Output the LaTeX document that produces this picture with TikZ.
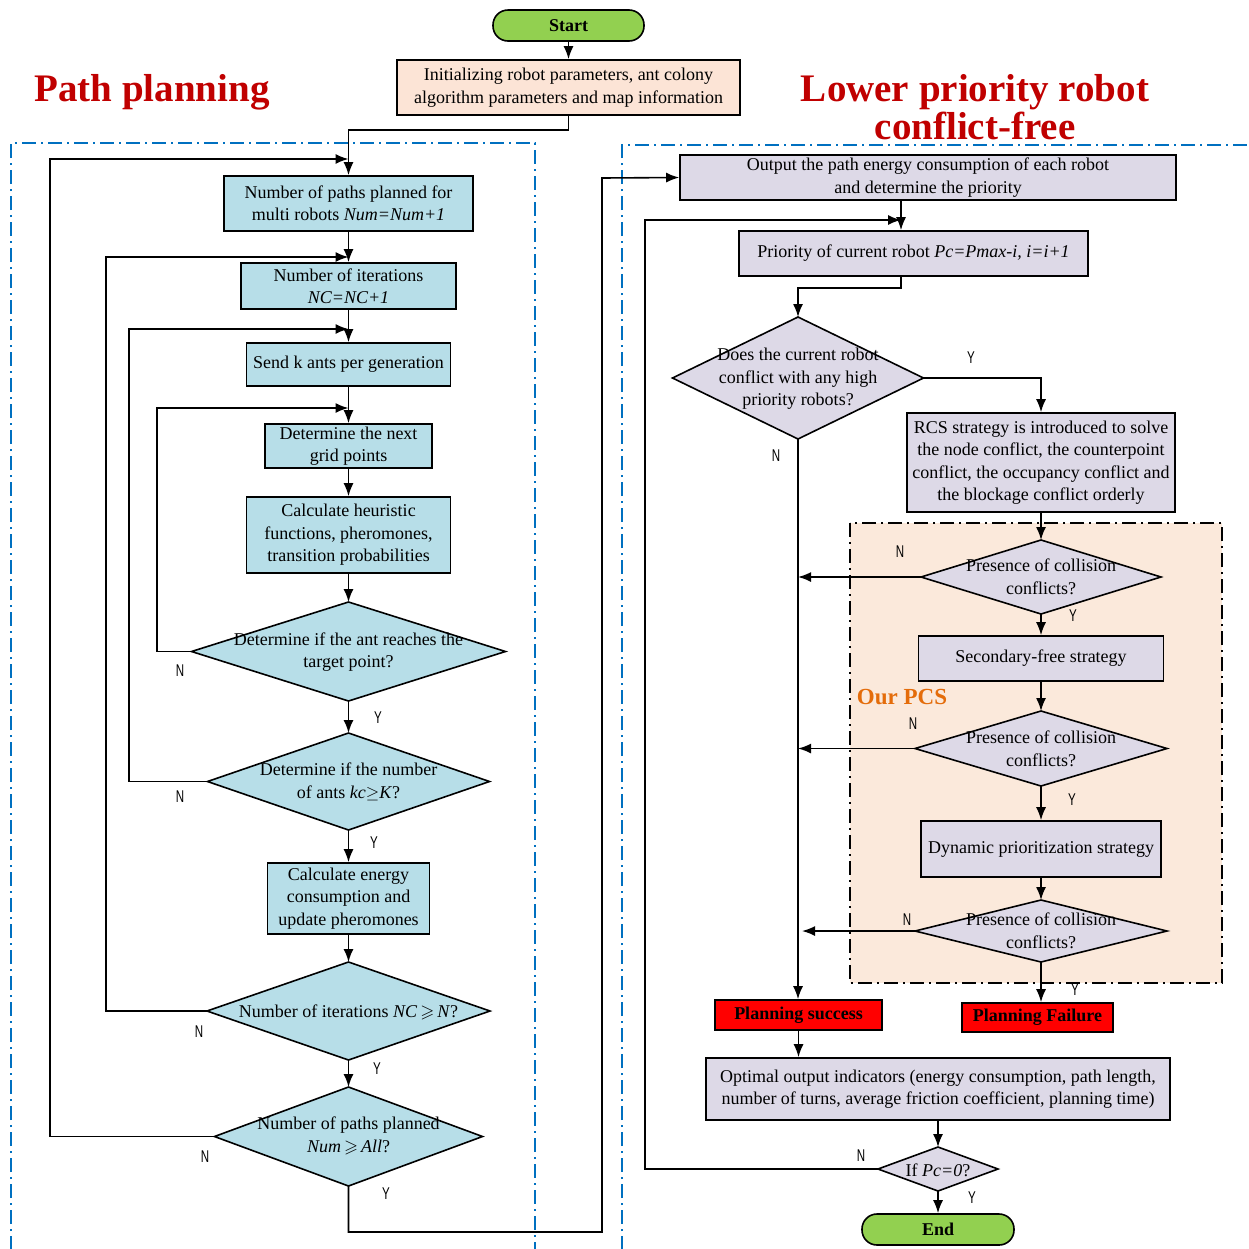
\documentclass[tikz,border=0pt]{standalone}
\usepackage{amssymb}
\usepackage{fontspec}
\setmainfont{Liberation Serif}
\newfontfamily\ynfont{Liberation Sans}
\usetikzlibrary{shapes.geometric,arrows.meta}
\definecolor{boxblue}{HTML}{B7DEE8}
\definecolor{lav}{HTML}{DDD9E7}
\definecolor{peach}{HTML}{FCE4D6}
\definecolor{pcsbg}{HTML}{FBE9DB}
\definecolor{pillgreen}{HTML}{92D050}
\definecolor{titlered}{HTML}{C00000}
\definecolor{pcsorange}{HTML}{E46C0A}
\definecolor{frameblue}{HTML}{0070C0}
\tikzset{
  base/.style={draw=black, line width=1.6pt, inner sep=2pt, align=center, font=\fontsize{18}{22.5}\selectfont},
  bbox/.style={base, rectangle, fill=boxblue},
  pbox/.style={base, rectangle, fill=lav},
  rbox/.style={base, rectangle, fill=red, font=\fontsize{18}{22.5}\selectfont\bfseries},
  pill/.style={base, rectangle, rounded corners=15pt, fill=pillgreen, font=\fontsize{18}{22.5}\selectfont\bfseries},
  dia/.style={draw=black, line width=1.6pt, diamond, inner sep=0pt, outer sep=0pt},
  wh/.style 2 args={minimum width=#1pt, minimum height=#2pt},
  txt/.style={align=center, inner sep=0pt, font=\fontsize{18}{22.5}\selectfont},
  yn/.style={inner sep=0pt, font=\ynfont\fontsize{17}{17}\selectfont, xscale=0.68},
  arr/.style={line width=1.6pt, -{Latex[length=13pt,width=10pt]}},
  frame/.style={draw=frameblue, line width=1.8pt, dash pattern=on 14pt off 5pt on 2pt off 5pt},
  title/.style={text=titlered, align=center, font=\fontsize{39}{38}\selectfont\bfseries},
}
\begin{document}
\begin{tikzpicture}[x=1pt,y=-1pt]
\useasboundingbox (0,0) rectangle (1249,1248);
% frames
\draw[frame] (11,1250) -- (11,143) -- (535,143) -- (535,1250);
\draw[frame] (622,1250) -- (622,145) -- (1252,145);
\draw[fill=pcsbg, draw=black, line width=1.6pt, dash pattern=on 14pt off 5pt on 2pt off 5pt] (850,523) rectangle (1222,983);
% titles
\node[title] (t1) at (152,92) {Path planning};
\node[title] (t2) at (975,107) {Lower priority robot\\conflict-free};
\node[text=pcsorange, inner sep=0pt, font=\fontsize{23}{23}\selectfont\bfseries] (pcs) at (902,697) {Our PCS};
% top
\node[pill, wh={151}{31}] (start) at (568.5,25.5) {Start};
\node[base, rectangle, fill=peach, wh={343}{55}] (init) at (568.5,87.5) {Initializing robot parameters, ant colony\\algorithm parameters and map information};
% left column
\node[bbox, wh={249}{55}] (num) at (348.5,203.5) {Number of paths planned for\\multi robots \textit{Num=Num+1}};
\node[bbox, wh={215}{46}] (iter) at (348.5,286) {Number of iterations\\\textit{NC=NC+1}};
\node[bbox, wh={204}{43}] (send) at (348.5,364.5) {Send k ants per generation};
\node[bbox, wh={167}{44}] (next) at (348.5,446) {Determine the next\\grid points};
\node[bbox, wh={204}{76}] (calc) at (348.5,535) {Calculate heuristic\\functions, pheromones,\\transition probabilities};
\node[dia, fill=boxblue, wh={314}{99}] (d1) at (348.5,651.5) {};
\node[txt] (d1t) at (348.5,652) {Determine if the ant reaches the\\target point?};
\node[dia, fill=boxblue, wh={282}{97}] (d2) at (348.5,781.5) {};
\node[txt] (d2t) at (348.5,782) {Determine if the number\\of ants \textit{kc}$\geq$\textit{K}?};
\node[bbox, wh={162}{71}] (energy) at (348.5,898.5) {Calculate energy\\consumption and\\update pheromones};
\node[dia, fill=boxblue, wh={283}{98}] (d3) at (348.5,1011) {};
\node[txt] (d3t) at (348.5,1012) {Number of iterations \textit{NC}\,$\geqslant$\,\textit{N}?};
\node[dia, fill=boxblue, wh={268}{99}] (d4) at (348.5,1136.5) {};
\node[txt] (d4t) at (348.5,1136) {Number of paths planned\\\textit{Num}\,$\geqslant$\,\textit{All}?};
% right column
\node[pbox, wh={496}{45}] (out) at (928,177.5) {Output the path energy consumption of each robot\\and determine the priority};
\node[pbox, wh={349}{45}] (prio) at (913.5,253.5) {Priority of current robot \textit{Pc=Pmax-i, i=i+1}};
\node[dia, fill=lav, wh={251}{122}] (r1) at (798,378) {};
\node[txt] (r1t) at (798,379) {Does the current robot\\conflict with any high\\priority robots?};
\node[pbox, wh={268}{99}] (rcs) at (1041,462.5) {RCS strategy is introduced to solve\\the node conflict, the counterpoint\\conflict, the occupancy conflict and\\the blockage conflict orderly};
\node[dia, fill=lav, wh={240}{74}] (r2) at (1041,577) {};
\node[txt] (r2t) at (1041,577) {Presence of collision\\conflicts?};
\node[pbox, wh={245}{45}] (sec) at (1041,658.5) {Secondary-free strategy};
\node[dia, fill=lav, wh={252}{75}] (r3) at (1041,748.5) {};
\node[txt] (r3t) at (1041,749) {Presence of collision\\conflicts?};
\node[pbox, wh={240}{56}] (dyn) at (1041,849) {Dynamic prioritization strategy};
\node[dia, fill=lav, wh={252}{62}] (r4) at (1041,931) {};
\node[txt] (r4t) at (1041,931) {Presence of collision\\conflicts?};
\node[rbox, wh={167}{30}] (succ) at (798.5,1015) {Planning success};
\node[rbox, wh={151}{29}] (fail) at (1037.5,1017.5) {Planning Failure};
\node[pbox, wh={464}{62}] (opt) at (938,1089) {Optimal output indicators (energy consumption, path length,\\number of turns, average friction coefficient, planning time)};
\node[dia, fill=lav, wh={120}{44}] (ifd) at (938,1169) {};
\node[txt] (ifdt) at (938,1170) {If \textit{Pc=0}?};
\node[pill, wh={152}{31}] (end) at (938,1229.5) {End};
% junction coordinates
\coordinate (j0) at (348.5,159);
\coordinate (j1) at (348.5,257);
\coordinate (j2) at (348.5,329);
\coordinate (j3) at (348.5,408);
\coordinate (l0) at (50,159);
\coordinate (l1) at (106,257);
\coordinate (l2) at (129,329);
\coordinate (l3) at (157,408);
\coordinate (b0) at (348.5,1232);
\coordinate (b1) at (602,1232);
\coordinate (b2) at (602,178);
\coordinate (k0) at (901,220);
\coordinate (k1) at (645,220);
\coordinate (m0) at (901,288);
\coordinate (n2) at (798,577);
\coordinate (n3) at (798,748.5);
\coordinate (n4) at (802,931);
% left connectors
\draw[arr] (start) -- (init);
\draw[arr] (init.south) -- ++(0,14) -| (num.north);
\draw[arr] (num) -- (iter);
\draw[arr] (iter) -- (send);
\draw[arr] (send) -- (next);
\draw[arr] (next) -- (calc);
\draw[arr] (calc) -- (d1);
\draw[arr] (d1) -- (d2);
\draw[arr] (d2) -- (energy);
\draw[arr] (energy) -- (d3);
\draw[arr] (d3) -- (d4);
\draw[arr] (d1.west) -| (l3) -- (j3);
\draw[arr] (d2.west) -| (l2) -- (j2);
\draw[arr] (d3.west) -| (l1) -- (j1);
\draw[arr] (d4.west) -| (l0) -- (j0);
\draw[arr] (d4.south) -- (b0) -- (b1) -- (b2) -- (out.west);
% right connectors
\draw[arr] (out.south -| k0) -- (prio.north -| k0);
\draw[arr] (ifd.west) -| (k1) -- (k0);
\draw[arr] (prio.south -| m0) -- (m0) -| (r1.north);
\draw[arr] (r1.east) -| (rcs.north);
\draw[arr] (r1.south) -- (r1.south |- succ.north);
\draw[arr] (rcs) -- (r2);
\draw[arr] (r2) -- (sec);
\draw[arr] (sec) -- (r3);
\draw[arr] (r3) -- (dyn);
\draw[arr] (dyn) -- (r4);
\draw[arr] (r4.south) -- (r4.south |- fail.north);
\draw[arr] (r2.west) -- (n2);
\draw[arr] (r3.west) -- (n3);
\draw[arr] (r4.west) -- (n4);
\draw[arr] (succ.south) -- (succ.south |- opt.north);
\draw[arr] (opt) -- (ifd);
\draw[arr] (ifd) -- (end);
% Y/N labels
\node[yn] (y1) at (378,718) {Y};
\node[yn] (n1) at (180,671) {N};
\node[yn] (y2) at (374,843) {Y};
\node[yn] (nn2) at (180,797) {N};
\node[yn] (y3) at (377,1069) {Y};
\node[yn] (nn3) at (199,1032) {N};
\node[yn] (y4) at (386,1194) {Y};
\node[yn] (nn4) at (205,1157) {N};
\node[yn] (yr1) at (971,358) {Y};
\node[yn] (nr1) at (776,456) {N};
\node[yn] (nr2) at (900,552) {N};
\node[yn] (yr2) at (1073,616) {Y};
\node[yn] (nr3) at (913,724) {N};
\node[yn] (yr3) at (1072,800) {Y};
\node[yn] (nr4) at (907,920) {N};
\node[yn] (yr4) at (1075,990) {Y};
\node[yn] (nif) at (861,1156) {N};
\node[yn] (yif) at (972,1198) {Y};
\end{tikzpicture}
\end{document}
